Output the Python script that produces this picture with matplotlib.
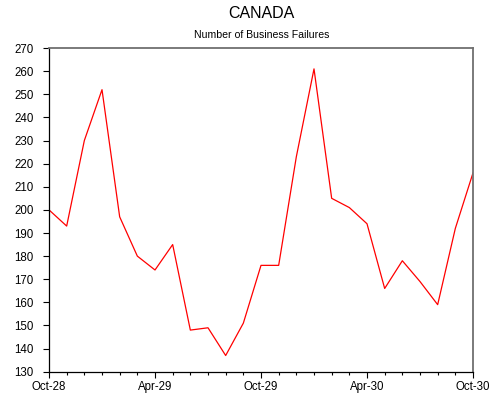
#!/usr/bin/env python3

# +
# import(s)
# -
import matplotlib as mpl
mpl.use('Agg')
import matplotlib.pyplot as plt
import numpy as np


# +
# data
# -
MONTHS = ['Oct-28', 'Nov-28', 'Dec-28', 'Jan-29', 'Feb-29', 'Mar-29', 'Apr-29',
          'May-29', 'Jun-29', 'Jul-29', 'Aug-29', 'Sep-29', 'Oct-29', 'Nov-29',
          'Dec-29', 'Jan-30', 'Feb-30', 'Mar-30', 'Apr-30', 'May-30', 'Jun-30',
          'Jul-30', 'Aug-30', 'Sep-30', 'Oct-30']
FAILURES = [200, 193, 230, 252, 197, 180, 174, 185, 148, 149, 137, 151, 176,
            176, 223, 261, 205, 201, 194, 166, 178, 169, 159, 192, 216]
TICK_LABELS = ['Oct-28', 'Apr-29', 'Oct-29', 'Apr-30', 'Oct-30']
Y_TICKS = list(range(130, 271, 10))


# +
# plot
# -
plt.rcParams['font.family'] = ['Liberation Sans', 'DejaVu Sans']

fig = plt.figure(figsize=(4.94, 3.94), dpi=100)
ax = fig.add_axes([0.0992, 0.0566, 0.8583, 0.8214])

x = np.arange(len(MONTHS))
ax.plot(x, FAILURES, color='#ff0000', lw=0.9)

ax.set_xlim(0, len(MONTHS) - 1)
ax.set_ylim(130, 270)

major = [MONTHS.index(m) for m in TICK_LABELS]
ax.set_xticks(major)
ax.set_xticklabels(TICK_LABELS)
ax.set_xticks(x, minor=True)
ax.set_yticks(Y_TICKS)

ax.tick_params(axis='both', which='major', direction='out', length=4, width=0.8,
               labelsize=8.3, color='black')
ax.tick_params(axis='x', which='major', pad=3)
ax.tick_params(axis='x', which='minor', direction='out', length=2, width=0.8)
ax.tick_params(axis='y', which='major', pad=7)

for side in ('left', 'bottom'):
    ax.spines[side].set_color('black')
    ax.spines[side].set_linewidth(0.9)
for side in ('top', 'right'):
    ax.spines[side].set_color('#707070')
    ax.spines[side].set_linewidth(1.3)

fig.text(0.53, 0.965, 'CANADA', ha='center', va='center', fontsize=11.5)
fig.text(0.53, 0.91, 'Number of Business Failures', ha='center', va='center', fontsize=7.6)

plt.savefig('out.png', dpi=100)
plt.close()
